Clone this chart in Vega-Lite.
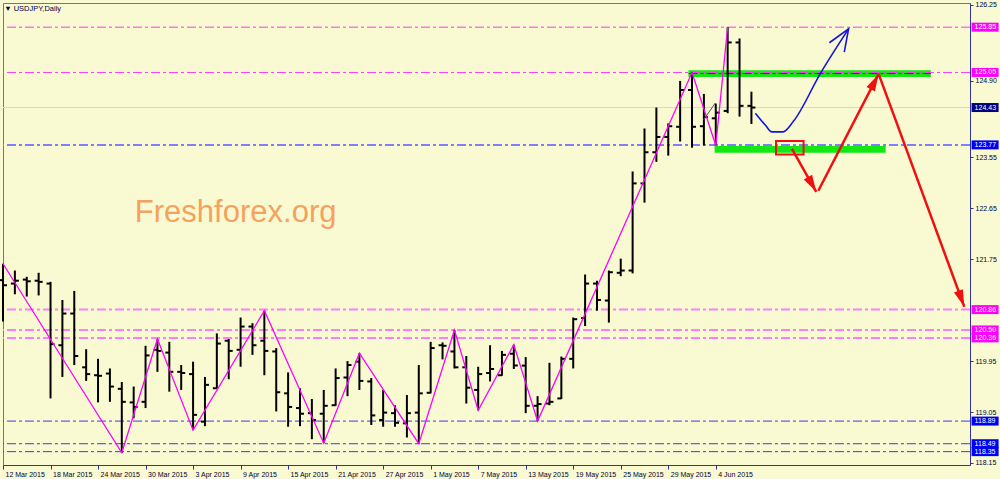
{
  "$schema": "https://vega.github.io/schema/vega-lite/v6.json",
  "width": 967,
  "height": 462,
  "autosize": {"type": "none"},
  "padding": {"left": 3, "top": 3, "right": 30, "bottom": 14},
  "background": "#FAFAD2",
  "view": {"stroke": "#7070B8", "strokeWidth": 1, "fill": null},
  "datasets": {
    "bars": [
      {"i": 0, "date": "2015-03-12", "o": 121.38, "h": 121.67, "l": 120.65, "c": 121.29},
      {"i": 1, "date": "2015-03-13", "o": 121.32, "h": 121.55, "l": 121.13, "c": 121.37},
      {"i": 2, "date": "2015-03-16", "o": 121.39, "h": 121.44, "l": 121.09, "c": 121.36},
      {"i": 3, "date": "2015-03-17", "o": 121.37, "h": 121.51, "l": 121.11, "c": 121.35},
      {"i": 4, "date": "2015-03-18", "o": 121.32, "h": 121.35, "l": 119.29, "c": 120.25},
      {"i": 5, "date": "2015-03-19", "o": 120.23, "h": 121.03, "l": 119.67, "c": 120.79},
      {"i": 6, "date": "2015-03-20", "o": 120.79, "h": 121.19, "l": 119.88, "c": 120.04},
      {"i": 7, "date": "2015-03-23", "o": 119.84, "h": 120.16, "l": 119.60, "c": 119.72},
      {"i": 8, "date": "2015-03-24", "o": 119.70, "h": 119.99, "l": 119.22, "c": 119.69},
      {"i": 9, "date": "2015-03-25", "o": 119.73, "h": 119.82, "l": 119.23, "c": 119.50},
      {"i": 10, "date": "2015-03-26", "o": 119.46, "h": 119.58, "l": 118.33, "c": 119.23},
      {"i": 11, "date": "2015-03-27", "o": 119.22, "h": 119.50, "l": 118.94, "c": 119.14},
      {"i": 12, "date": "2015-03-30", "o": 119.23, "h": 120.22, "l": 119.12, "c": 120.05},
      {"i": 13, "date": "2015-03-31", "o": 120.15, "h": 120.34, "l": 119.76, "c": 120.13},
      {"i": 14, "date": "2015-04-01", "o": 120.10, "h": 120.29, "l": 119.41, "c": 119.76},
      {"i": 15, "date": "2015-04-02", "o": 119.76, "h": 119.88, "l": 119.44, "c": 119.74},
      {"i": 16, "date": "2015-04-03", "o": 119.72, "h": 119.94, "l": 118.73, "c": 119.00},
      {"i": 17, "date": "2015-04-06", "o": 118.88, "h": 119.67, "l": 118.80, "c": 119.53},
      {"i": 18, "date": "2015-04-07", "o": 119.47, "h": 120.44, "l": 119.47, "c": 120.26},
      {"i": 19, "date": "2015-04-08", "o": 120.31, "h": 120.34, "l": 119.63, "c": 120.13},
      {"i": 20, "date": "2015-04-09", "o": 120.15, "h": 120.72, "l": 119.85, "c": 120.56},
      {"i": 21, "date": "2015-04-10", "o": 120.56, "h": 120.62, "l": 120.06, "c": 120.23},
      {"i": 22, "date": "2015-04-13", "o": 120.31, "h": 120.84, "l": 119.70, "c": 120.13},
      {"i": 23, "date": "2015-04-14", "o": 120.12, "h": 120.18, "l": 119.06, "c": 119.40},
      {"i": 24, "date": "2015-04-15", "o": 119.38, "h": 119.75, "l": 118.79, "c": 119.14},
      {"i": 25, "date": "2015-04-16", "o": 119.12, "h": 119.47, "l": 118.80, "c": 119.02},
      {"i": 26, "date": "2015-04-17", "o": 119.03, "h": 119.28, "l": 118.57, "c": 118.91},
      {"i": 27, "date": "2015-04-20", "o": 119.02, "h": 119.44, "l": 118.50, "c": 119.16},
      {"i": 28, "date": "2015-04-21", "o": 119.17, "h": 119.82, "l": 119.16, "c": 119.65},
      {"i": 29, "date": "2015-04-22", "o": 119.66, "h": 119.95, "l": 119.33, "c": 119.88},
      {"i": 30, "date": "2015-04-23", "o": 119.94, "h": 120.09, "l": 119.44, "c": 119.60},
      {"i": 31, "date": "2015-04-24", "o": 119.59, "h": 119.65, "l": 118.82, "c": 118.99},
      {"i": 32, "date": "2015-04-27", "o": 118.91, "h": 119.44, "l": 118.79, "c": 119.04},
      {"i": 33, "date": "2015-04-28", "o": 119.03, "h": 119.17, "l": 118.79, "c": 118.86},
      {"i": 34, "date": "2015-04-29", "o": 118.85, "h": 119.35, "l": 118.60, "c": 119.03},
      {"i": 35, "date": "2015-04-30", "o": 119.04, "h": 119.88, "l": 118.49, "c": 119.38},
      {"i": 36, "date": "2015-05-01", "o": 119.39, "h": 120.29, "l": 119.38, "c": 120.18},
      {"i": 37, "date": "2015-05-04", "o": 120.23, "h": 120.28, "l": 119.98, "c": 120.22},
      {"i": 38, "date": "2015-05-05", "o": 120.12, "h": 120.50, "l": 119.82, "c": 119.84},
      {"i": 39, "date": "2015-05-06", "o": 119.84, "h": 120.04, "l": 119.20, "c": 119.48},
      {"i": 40, "date": "2015-05-07", "o": 119.44, "h": 119.85, "l": 119.08, "c": 119.72},
      {"i": 41, "date": "2015-05-08", "o": 119.74, "h": 120.23, "l": 119.59, "c": 119.81},
      {"i": 42, "date": "2015-05-11", "o": 119.70, "h": 120.13, "l": 119.69, "c": 120.06},
      {"i": 43, "date": "2015-05-12", "o": 120.08, "h": 120.24, "l": 119.81, "c": 119.87},
      {"i": 44, "date": "2015-05-13", "o": 119.87, "h": 120.02, "l": 119.03, "c": 119.16},
      {"i": 45, "date": "2015-05-14", "o": 119.16, "h": 119.33, "l": 118.89, "c": 119.19},
      {"i": 46, "date": "2015-05-15", "o": 119.20, "h": 119.92, "l": 119.17, "c": 119.23},
      {"i": 47, "date": "2015-05-18", "o": 119.29, "h": 120.03, "l": 119.28, "c": 119.99},
      {"i": 48, "date": "2015-05-19", "o": 119.99, "h": 120.72, "l": 119.82, "c": 120.69},
      {"i": 49, "date": "2015-05-20", "o": 120.71, "h": 121.48, "l": 120.57, "c": 121.32},
      {"i": 50, "date": "2015-05-21", "o": 121.32, "h": 121.37, "l": 120.84, "c": 121.03},
      {"i": 51, "date": "2015-05-22", "o": 121.02, "h": 121.55, "l": 120.63, "c": 121.52},
      {"i": 52, "date": "2015-05-25", "o": 121.51, "h": 121.76, "l": 121.45, "c": 121.55},
      {"i": 53, "date": "2015-05-26", "o": 121.55, "h": 123.30, "l": 121.50, "c": 123.09},
      {"i": 54, "date": "2015-05-27", "o": 123.09, "h": 124.06, "l": 122.75, "c": 123.64},
      {"i": 55, "date": "2015-05-28", "o": 123.64, "h": 124.43, "l": 123.47, "c": 123.91},
      {"i": 56, "date": "2015-05-29", "o": 123.91, "h": 124.15, "l": 123.58, "c": 124.10},
      {"i": 57, "date": "2015-06-01", "o": 124.09, "h": 124.90, "l": 123.83, "c": 124.74},
      {"i": 58, "date": "2015-06-02", "o": 124.74, "h": 125.05, "l": 123.72, "c": 124.09},
      {"i": 59, "date": "2015-06-03", "o": 124.10, "h": 124.67, "l": 123.76, "c": 124.26},
      {"i": 60, "date": "2015-06-04", "o": 124.24, "h": 124.50, "l": 123.76, "c": 124.34},
      {"i": 61, "date": "2015-06-05", "o": 124.37, "h": 125.85, "l": 124.33, "c": 125.58},
      {"i": 62, "date": "2015-06-08", "o": 125.58, "h": 125.65, "l": 124.27, "c": 124.46},
      {"i": 63, "date": "2015-06-09", "o": 124.46, "h": 124.71, "l": 124.14, "c": 124.43}
    ],
    "zigzag": [
      {"i": 0, "p": 121.67}, {"i": 10, "p": 118.33}, {"i": 13, "p": 120.34},
      {"i": 16, "p": 118.73}, {"i": 22, "p": 120.84}, {"i": 27, "p": 118.50},
      {"i": 30, "p": 120.09}, {"i": 35, "p": 118.49}, {"i": 38, "p": 120.50},
      {"i": 40, "p": 119.08}, {"i": 43, "p": 120.24}, {"i": 45, "p": 118.89},
      {"i": 58, "p": 125.05}, {"i": 60, "p": 123.76}, {"i": 61, "p": 125.85}
    ],
    "levels": [
      {"level": 125.85, "kind": "res"},
      {"level": 125.05, "kind": "res"},
      {"level": 124.43, "kind": "last"},
      {"level": 123.77, "kind": "sup1"},
      {"level": 120.86, "kind": "res2"},
      {"level": 120.50, "kind": "res2"},
      {"level": 120.36, "kind": "res2"},
      {"level": 118.89, "kind": "sup2"},
      {"level": 118.49, "kind": "sup2"},
      {"level": 118.35, "kind": "sup2"}
    ],
    "zones": [
      {"kind": "green", "i": 57.7, "i2": 78.1, "p": 124.97, "p2": 125.09},
      {"kind": "green", "i": 59.9, "i2": 74.3, "p": 123.63, "p2": 123.75},
      {"kind": "box", "i": 65.07, "i2": 67.39, "p": 123.60, "p2": 123.84}
    ],
    "segs": [
      {"kind": "red", "i": 66.41, "p": 123.70, "i2": 68.46, "p2": 122.94},
      {"kind": "red", "i": 68.63, "p": 122.96, "i2": 73.70, "p2": 125.02},
      {"kind": "red", "i": 73.70, "p": 125.03, "i2": 80.92, "p2": 120.91},
      {"kind": "blue", "i": 68.80, "p": 125.03, "i2": 71.18, "p2": 125.82},
      {"kind": "gray", "i": 58.97, "p": 124.21, "i2": 59.96, "p2": 124.51},
      {"kind": "mark", "i": 57.7, "p": 125.03, "i2": 78.1, "p2": 125.03}
    ],
    "bluepath": [
      {"i": 63.33, "p": 124.33}, {"i": 64.17, "p": 124.12}, {"i": 64.73, "p": 124.00},
      {"i": 65.66, "p": 124.00}, {"i": 66.55, "p": 124.19}, {"i": 68.80, "p": 125.03},
      {"i": 71.18, "p": 125.82}
    ],
    "notes": [
      {"kind": "title", "i": 0.1, "p": 126.135, "text": "▼ USDJPY,Daily"},
      {"kind": "wm", "i": 11.1, "p": 122.41, "text": "Freshforex.org"}
    ]
  },
  "layer": [
    {
      "data": {"name": "zones"},
      "transform": [{"filter": "datum.kind === 'green'"}],
      "mark": {"type": "rect", "color": "#12E812"},
      "encoding": {
        "x": {
          "field": "i", "type": "quantitative", "title": null,
          "scale": {"domain": [0, 81.4], "nice": false, "zero": false},
          "axis": {
            "values": [0, 4, 8, 12, 16, 20, 24, 28, 32, 36, 40, 44, 48, 52, 56, 60],
            "labelExpr": "['12 Mar 2015','18 Mar 2015','24 Mar 2015','30 Mar 2015','3 Apr 2015','9 Apr 2015','15 Apr 2015','21 Apr 2015','27 Apr 2015','1 May 2015','7 May 2015','13 May 2015','19 May 2015','25 May 2015','29 May 2015','4 Jun 2015'][round(datum.value/4)]",
            "labelAlign": "left", "labelOffset": 2, "labelPadding": 1, "tickSize": 4,
            "grid": false, "labelFlush": false, "labelOverlap": false,
            "domainColor": "#333399", "tickColor": "#333399", "labelColor": "#000033",
            "labelFont": "Liberation Sans", "labelFontSize": 7
          }
        },
        "x2": {"field": "i2"},
        "y": {
          "field": "p", "type": "quantitative", "title": null,
          "scale": {"domain": [118.114, 126.277], "nice": false, "zero": false},
          "axis": {
            "orient": "right",
            "values": [118.15, 118.6, 119.05, 119.5, 119.95, 121.3, 121.75, 122.2, 122.65, 123.1, 123.55, 124.0, 124.9, 125.35, 126.25],
            "format": ".2f", "tickSize": 3, "labelPadding": 2, "grid": false,
            "labelOverlap": false, "labelFlush": false,
            "domainColor": "#333399", "tickColor": "#333399", "labelColor": "#000033",
            "labelFont": "Liberation Sans", "labelFontSize": 7
          }
        },
        "y2": {"field": "p2"}
      }
    },
    {
      "data": {"name": "levels"},
      "transform": [{"filter": "datum.kind === 'res'"}],
      "mark": {"type": "rule", "color": "#FF33FF", "strokeWidth": 1, "strokeDash": [9, 3, 3, 3]},
      "encoding": {"y": {"field": "level", "type": "quantitative", "title": null}}
    },
    {
      "data": {"name": "levels"},
      "transform": [{"filter": "datum.kind === 'res2'"}],
      "mark": {"type": "rule", "color": "#FF7CFF", "strokeWidth": 2, "strokeDash": [9, 3, 3, 3]},
      "encoding": {"y": {"field": "level", "type": "quantitative", "title": null}}
    },
    {
      "data": {"name": "levels"},
      "transform": [{"filter": "datum.kind === 'last'"}],
      "mark": {"type": "rule", "color": "#D6D6D6", "strokeWidth": 1},
      "encoding": {"y": {"field": "level", "type": "quantitative", "title": null}}
    },
    {
      "data": {"name": "levels"},
      "transform": [{"filter": "datum.kind === 'sup1'"}],
      "mark": {"type": "rule", "color": "#7E7EFF", "strokeWidth": 2, "strokeDash": [9, 3, 3, 3]},
      "encoding": {"y": {"field": "level", "type": "quantitative", "title": null}}
    },
    {
      "data": {"name": "levels"},
      "transform": [{"filter": "datum.kind === 'sup2'"}],
      "mark": {"type": "rule", "color": "#3B3BE6", "strokeWidth": 1, "strokeDash": [9, 3, 3, 3]},
      "encoding": {"y": {"field": "level", "type": "quantitative", "title": null}}
    },
    {
      "data": {"name": "segs"},
      "transform": [{"filter": "datum.kind === 'mark'"}],
      "mark": {"type": "rule", "color": "#2A3A2A", "strokeWidth": 1, "strokeDash": [9, 3, 3, 3]},
      "encoding": {
        "x": {"field": "i", "type": "quantitative", "title": null},
        "x2": {"field": "i2"},
        "y": {"field": "p", "type": "quantitative", "title": null},
        "y2": {"field": "p2"}
      }
    },
    {
      "data": {"name": "bars"},
      "mark": {"type": "rule", "color": "#000000", "strokeWidth": 2},
      "encoding": {
        "x": {"field": "i", "type": "quantitative", "title": null},
        "y": {"field": "l", "type": "quantitative", "title": null},
        "y2": {"field": "h"}
      }
    },
    {
      "data": {"name": "bars"},
      "mark": {"type": "tick", "orient": "horizontal", "size": 4, "thickness": 2, "xOffset": -2, "color": "#000000", "opacity": 1},
      "encoding": {
        "x": {"field": "i", "type": "quantitative", "title": null},
        "y": {"field": "o", "type": "quantitative", "title": null}
      }
    },
    {
      "data": {"name": "bars"},
      "mark": {"type": "tick", "orient": "horizontal", "size": 4, "thickness": 2, "xOffset": 2, "color": "#000000", "opacity": 1},
      "encoding": {
        "x": {"field": "i", "type": "quantitative", "title": null},
        "y": {"field": "c", "type": "quantitative", "title": null}
      }
    },
    {
      "data": {"name": "zigzag"},
      "mark": {"type": "line", "color": "#FF00FF", "strokeWidth": 1.3},
      "encoding": {
        "x": {"field": "i", "type": "quantitative", "title": null},
        "y": {"field": "p", "type": "quantitative", "title": null}
      }
    },
    {
      "data": {"name": "segs"},
      "transform": [{"filter": "datum.kind === 'gray'"}],
      "mark": {"type": "rule", "color": "#505050", "strokeWidth": 1},
      "encoding": {
        "x": {"field": "i", "type": "quantitative", "title": null},
        "x2": {"field": "i2"},
        "y": {"field": "p", "type": "quantitative", "title": null},
        "y2": {"field": "p2"}
      }
    },
    {
      "data": {"name": "bluepath"},
      "mark": {"type": "line", "color": "#1414E0", "strokeWidth": 1.6, "interpolate": "monotone"},
      "encoding": {
        "x": {"field": "i", "type": "quantitative", "title": null},
        "y": {"field": "p", "type": "quantitative", "title": null}
      }
    },
    {
      "data": {"name": "segs"},
      "transform": [
        {"filter": "datum.kind === 'blue'"},
        {"calculate": "atan2((datum.i2 - datum.i) * 11.88, (datum.p2 - datum.p) * 56.6) * 180 / PI", "as": "ang"}
      ],
      "mark": {"type": "point", "shape": "M-0.4,1L0,0L0.4,1", "filled": false, "color": "#1414E0", "strokeWidth": 1.6, "size": 1936, "opacity": 1},
      "encoding": {
        "x": {"field": "i2", "type": "quantitative", "title": null},
        "y": {"field": "p2", "type": "quantitative", "title": null},
        "angle": {"field": "ang", "type": "quantitative", "scale": null}
      }
    },
    {
      "data": {"name": "zones"},
      "transform": [{"filter": "datum.kind === 'box'"}],
      "mark": {"type": "rect", "filled": false, "color": "#F01010", "strokeWidth": 2},
      "encoding": {
        "x": {"field": "i", "type": "quantitative", "title": null},
        "x2": {"field": "i2"},
        "y": {"field": "p", "type": "quantitative", "title": null},
        "y2": {"field": "p2"}
      }
    },
    {
      "data": {"name": "segs"},
      "transform": [{"filter": "datum.kind === 'red'"}],
      "mark": {"type": "rule", "color": "#F01010", "strokeWidth": 2.5},
      "encoding": {
        "x": {"field": "i", "type": "quantitative", "title": null},
        "x2": {"field": "i2"},
        "y": {"field": "p", "type": "quantitative", "title": null},
        "y2": {"field": "p2"}
      }
    },
    {
      "data": {"name": "segs"},
      "transform": [
        {"filter": "datum.kind === 'red'"},
        {"calculate": "atan2((datum.i2 - datum.i) * 11.88, (datum.p2 - datum.p) * 56.6) * 180 / PI", "as": "ang"}
      ],
      "mark": {"type": "point", "shape": "M0,0L-0.28,1L0.28,1Z", "filled": true, "color": "#F01010", "strokeWidth": 0, "size": 1156, "opacity": 1},
      "encoding": {
        "x": {"field": "i2", "type": "quantitative", "title": null},
        "y": {"field": "p2", "type": "quantitative", "title": null},
        "angle": {"field": "ang", "type": "quantitative", "scale": null}
      }
    },
    {
      "data": {"name": "notes"},
      "transform": [{"filter": "datum.kind === 'title'"}],
      "mark": {"type": "text", "align": "left", "baseline": "alphabetic", "font": "Liberation Sans", "fontSize": 7.5, "color": "#000050"},
      "encoding": {
        "x": {"field": "i", "type": "quantitative", "title": null},
        "y": {"field": "p", "type": "quantitative", "title": null},
        "text": {"field": "text"}
      }
    },
    {
      "data": {"name": "notes"},
      "transform": [{"filter": "datum.kind === 'wm'"}],
      "mark": {"type": "text", "align": "left", "baseline": "alphabetic", "font": "Liberation Sans", "fontSize": 31, "color": "#F4A25E"},
      "encoding": {
        "x": {"field": "i", "type": "quantitative", "title": null},
        "y": {"field": "p", "type": "quantitative", "title": null},
        "text": {"field": "text"}
      }
    },
    {
      "data": {"name": "levels"},
      "mark": {"type": "tick", "orient": "horizontal", "size": 27, "thickness": 9, "opacity": 1},
      "encoding": {
        "x": {"datum": 82.67, "type": "quantitative"},
        "y": {"field": "level", "type": "quantitative", "title": null},
        "fill": {"field": "kind", "type": "nominal", "legend": null,
          "scale": {"domain": ["res", "res2", "last", "sup1", "sup2"], "range": ["#FF00FF", "#FF00FF", "#000080", "#0000F0", "#0000F0"]}}
      }
    },
    {
      "data": {"name": "levels"},
      "mark": {"type": "text", "align": "left", "baseline": "middle", "dx": 2, "color": "#FFFFFF", "font": "Liberation Sans", "fontSize": 7},
      "encoding": {
        "x": {"datum": 81.62, "type": "quantitative"},
        "y": {"field": "level", "type": "quantitative", "title": null},
        "text": {"field": "level", "type": "quantitative", "format": ".2f"}
      }
    }
  ]
}
